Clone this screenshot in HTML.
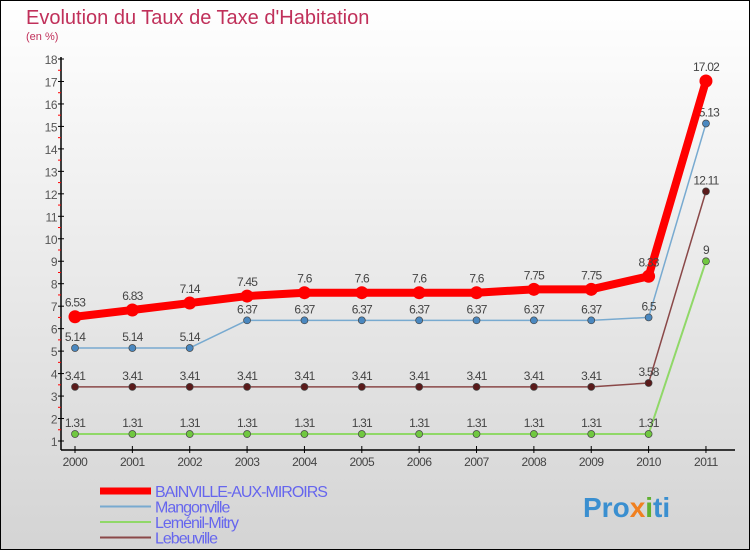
<!DOCTYPE html>
<html><head><meta charset="utf-8"><style>
html,body{margin:0;padding:0}
body{width:750px;height:550px;overflow:hidden;font-family:"Liberation Sans",sans-serif}
</style></head><body>
<svg id="c" width="750" height="550" xmlns="http://www.w3.org/2000/svg">
<defs><linearGradient id="bg" x1="0" y1="0" x2="0" y2="1"><stop offset="0" stop-color="#ffffff"/><stop offset="1" stop-color="#d4d4d4"/></linearGradient></defs>
<rect x="0.5" y="0.5" width="749" height="549" fill="url(#bg)" stroke="#000"/>
<text x="26" y="24" font-size="20" fill="#c0305a">Evolution du Taux de Taxe d'Habitation</text>
<text x="26" y="40" font-size="11" fill="#c0305a">(en %)</text>
<g id="axes"></g><g id="series"></g><g id="legend"></g>
<text x="583" y="517" font-size="28" font-weight="bold" fill="#3a8fd0">Pro<tspan fill="#f08020">x</tspan><tspan fill="#60b030">i</tspan>ti</text>
</svg>
<script>
const years=[2000,2001,2002,2003,2004,2005,2006,2007,2008,2009,2010,2011];
const bainville=[6.53,6.83,7.14,7.45,7.6,7.6,7.6,7.6,7.75,7.75,8.33,17.02];
const mangonville=[5.14,5.14,5.14,6.37,6.37,6.37,6.37,6.37,6.37,6.37,6.5,15.13];
const lemenil=[1.31,1.31,1.31,1.31,1.31,1.31,1.31,1.31,1.31,1.31,1.31,9];
const lebeuville=[3.41,3.41,3.41,3.41,3.41,3.41,3.41,3.41,3.41,3.41,3.58,12.11];
const yTicks=[1,2,3,4,5,6,7,8,9,10,11,12,13,14,15,16,17,18];
const NS="http://www.w3.org/2000/svg";
const X=i=>75+i*57.36, Y=v=>441-(v-1)*22.47;
function el(t,a,p){const e=document.createElementNS(NS,t);for(const k in a)e.setAttribute(k,a[k]);p.appendChild(e);return e;}
const ax=document.getElementById('axes');
let l=el('line',{x1:61,y1:57,x2:61,y2:450,stroke:'#000','stroke-width':1.5},ax);


l=el('line',{x1:61,y1:450,x2:735,y2:450,stroke:'#000','stroke-width':1.5},ax);


yTicks.forEach(v=>{
 el('line',{x1:58,y1:Y(v),x2:64,y2:Y(v),stroke:'#000'},ax);
 if(v<18) el('line',{x1:58,y1:Y(v+0.5),x2:61,y2:Y(v+0.5),stroke:'#f00'},ax);
 const t=el('text',{x:57,y:Y(v)+5,'font-size':12,fill:'#555','text-anchor':'end','letter-spacing':'-0.5'},ax);
 
 
 t.textContent=v;
});
years.forEach((yr,i)=>{
 el('line',{x1:X(i),y1:446,x2:X(i),y2:453,stroke:'#000'},ax);
 const t=el('text',{x:X(i),y:466,'font-size':12,fill:'#444','text-anchor':'middle','letter-spacing':'-0.5'},ax);
 
 
 t.textContent=yr;
});
const sg=document.getElementById('series');
const sLem={d:lemenil,c:'#90d868',f:'#70c840',w:2,r:3.5,n:'lemenil-mitry',lab:'Leménil-Mitry'};
const sLeb={d:lebeuville,c:'#8a4848',f:'#5a1a1a',w:1.5,r:3.5,n:'lebeuville',lab:'Lebeuville'};
const sMan={d:mangonville,c:'#78aad0',f:'#4a88c0',w:1.5,r:3.5,n:'mangonville',lab:'Mangonville'};
const sBai={d:bainville,c:'#f00',f:'#f00',w:8,r:6.5,n:'bainville-aux-miroirs',lab:'BAINVILLE-AUX-MIROIRS'};
[sLem,sLeb,sMan,sBai].forEach(s=>{
 const g=el('g',{},sg);
 
 
 const p=el('polyline',{points:s.d.map((v,i)=>X(i)+','+Y(v)).join(' '),fill:'none',stroke:s.c,'stroke-width':s.w,'stroke-linejoin':'round'},g);
 
 
 s.d.forEach((v,i)=>{
  const c=el('circle',{cx:X(i),cy:Y(v),r:s.r,fill:s.f,stroke:'#444','stroke-width':s.w>4?0:0.7},g);
  
  
  const t=el('text',{x:X(i),y:Y(v)-(s.w>4?10:7),'font-size':12,fill:'#444','text-anchor':'middle','letter-spacing':'-0.8'},g);
  
  
  t.textContent=v;
 });
});
const lg=document.getElementById('legend');
[sBai,sMan,sLem,sLeb].forEach((s,k)=>{
 const y=491+k*15.5;
 const g=el('g',{},lg);
 
 
 el('line',{x1:100,y1:y,x2:151,y2:y,stroke:s.c,'stroke-width':s.w>4?7:2},g);
 const t=el('text',{x:155,y:y+6,'font-size':16,fill:'#6666ee','letter-spacing':'-1'},g);
 t.textContent=s.lab;
});
</script>
</body></html>
